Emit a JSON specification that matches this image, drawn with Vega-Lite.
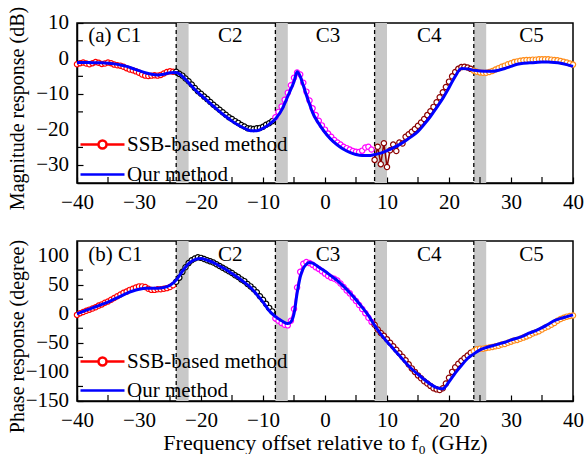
{
  "$schema": "https://vega.github.io/schema/vega-lite/v6.json",
  "padding": {"left": 6, "top": 5, "right": 0, "bottom": 0},
  "bounds": "flush",
  "spacing": 58,
  "config": {
    "font": "Liberation Serif",
    "view": {"stroke": "black", "strokeWidth": 1.5},
    "axis": {"domainColor": "black", "domainWidth": 1.5, "tickColor": "black", "tickSize": -6, "tickWidth": 1.2, "labelFont": "Liberation Serif", "labelFontSize": 21, "labelColor": "black", "labelPadding": 14, "titleFont": "Liberation Serif", "titleFontSize": 20, "titleFontWeight": "normal", "titleColor": "black", "grid": false, "labelFlush": false, "labelOverlap": false},
    "legend": {"padding": 0}
  },
  "resolve": {"scale": {"color": "independent", "stroke": "independent"}, "legend": {"color": "independent"}},
  "datasets": {
    "bands": [{"a": -24, "b": -22}, {"a": -8, "b": -6}, {"a": 8, "b": 10}, {"a": 24, "b": 26}],
    "dash": [{"d": -24}, {"d": -8}, {"d": 8}, {"d": 24}],
    "xminor": [{"v": -35}, {"v": -25}, {"v": -15}, {"v": -5}, {"v": 5}, {"v": 15}, {"v": 25}, {"v": 35}],
    "yminorA": [{"v": -25}, {"v": -15}, {"v": -5}, {"v": 5}],
    "yminorB": [{"v": -125}, {"v": -75}, {"v": -25}, {"v": 25}, {"v": 75}],
    "ylabA": [{"v": -30}, {"v": -20}, {"v": -10}, {"v": 0}, {"v": 10}],
    "ylabB": [{"v": -150}, {"v": -100}, {"v": -50}, {"v": 0}, {"v": 50}, {"v": 100}],
    "labA": [{"f": -38.2, "y": 6.4, "t": "(a) C1"}],
    "labB": [{"f": -38.2, "y": 101, "t": "(b) C1"}],
    "segA": [{"f": -15.3, "y": 6.4, "t": "C2"}, {"f": 0.5, "y": 6.4, "t": "C3"}, {"f": 16.8, "y": 6.4, "t": "C4"}, {"f": 33.3, "y": 6.4, "t": "C5"}],
    "segB": [{"f": -15.3, "y": 101, "t": "C2"}, {"f": 0.5, "y": 101, "t": "C3"}, {"f": 16.8, "y": 101, "t": "C4"}, {"f": 33.3, "y": 101, "t": "C5"}],
    "ours": [
      {"f": -40, "m": -1.1, "p": 0}, {"f": -39, "m": -1.1, "p": 4}, {"f": -38, "m": -1.1, "p": 8}, {"f": -37, "m": -1.2, "p": 12},
      {"f": -36, "m": -1.2, "p": 16}, {"f": -35, "m": -1.3, "p": 20}, {"f": -34, "m": -1.5, "p": 25}, {"f": -33, "m": -1.8, "p": 30},
      {"f": -32, "m": -2.2, "p": 35}, {"f": -31, "m": -2.8, "p": 39}, {"f": -30, "m": -3.4, "p": 42}, {"f": -29, "m": -4.0, "p": 44},
      {"f": -28, "m": -4.4, "p": 44}, {"f": -27, "m": -4.6, "p": 44}, {"f": -26, "m": -4.4, "p": 45}, {"f": -25, "m": -4.0, "p": 49},
      {"f": -24, "m": -3.9, "p": 58}, {"f": -23, "m": -5.0, "p": 73}, {"f": -22, "m": -6.8, "p": 86}, {"f": -21, "m": -8.7, "p": 93},
      {"f": -20, "m": -10.3, "p": 95}, {"f": -19, "m": -11.8, "p": 92}, {"f": -18, "m": -13.4, "p": 88}, {"f": -17, "m": -14.9, "p": 82},
      {"f": -16, "m": -16.3, "p": 76}, {"f": -15, "m": -17.6, "p": 69}, {"f": -14, "m": -18.7, "p": 62}, {"f": -13, "m": -19.6, "p": 54},
      {"f": -12, "m": -20.3, "p": 45}, {"f": -11, "m": -20.3, "p": 33}, {"f": -10, "m": -19.6, "p": 20}, {"f": -9, "m": -18.5, "p": 5},
      {"f": -8, "m": -17.0, "p": -5}, {"f": -7, "m": -14.5, "p": -12}, {"f": -6, "m": -10.6, "p": -17}, {"f": -5.5, "m": -8.6, "p": -14},
      {"f": -5, "m": -6.5, "p": 0}, {"f": -4.5, "m": -3.7, "p": 35}, {"f": -4, "m": -5.0, "p": 63}, {"f": -3.5, "m": -7.6, "p": 78},
      {"f": -3, "m": -10.3, "p": 85}, {"f": -2.5, "m": -12.8, "p": 88}, {"f": -2, "m": -15.2, "p": 87}, {"f": -1, "m": -18.3, "p": 80},
      {"f": 0, "m": -20.8, "p": 73}, {"f": 1, "m": -22.8, "p": 65}, {"f": 2, "m": -24.3, "p": 57}, {"f": 3, "m": -25.5, "p": 47},
      {"f": 4, "m": -26.4, "p": 36}, {"f": 5, "m": -27.0, "p": 24}, {"f": 6, "m": -27.3, "p": 11}, {"f": 7, "m": -27.3, "p": -3},
      {"f": 8, "m": -27.0, "p": -20}, {"f": 9, "m": -26.6, "p": -35}, {"f": 10, "m": -25.9, "p": -48}, {"f": 11, "m": -25.1, "p": -60},
      {"f": 12, "m": -24.2, "p": -72}, {"f": 13, "m": -23.1, "p": -84}, {"f": 14, "m": -21.9, "p": -95}, {"f": 15, "m": -20.5, "p": -104},
      {"f": 16, "m": -18.5, "p": -113}, {"f": 17, "m": -16.3, "p": -121}, {"f": 18, "m": -13.8, "p": -127}, {"f": 19, "m": -11.2, "p": -129},
      {"f": 20, "m": -8.2, "p": -117}, {"f": 21, "m": -5.0, "p": -102}, {"f": 22, "m": -2.8, "p": -89}, {"f": 23, "m": -2.9, "p": -77},
      {"f": 24, "m": -3.3, "p": -69}, {"f": 25, "m": -3.5, "p": -62}, {"f": 26, "m": -3.6, "p": -58}, {"f": 27, "m": -3.6, "p": -55},
      {"f": 28, "m": -3.3, "p": -52}, {"f": 29, "m": -2.8, "p": -49}, {"f": 30, "m": -2.2, "p": -45}, {"f": 31, "m": -1.6, "p": -42},
      {"f": 32, "m": -1.3, "p": -38}, {"f": 33, "m": -1.2, "p": -33}, {"f": 34, "m": -1.1, "p": -29}, {"f": 35, "m": -1.0, "p": -24},
      {"f": 36, "m": -1.0, "p": -18}, {"f": 37, "m": -1.1, "p": -12}, {"f": 38, "m": -1.3, "p": -8}, {"f": 39, "m": -1.7, "p": -5},
      {"f": 40, "m": -2.2, "p": -2}
    ],
    "ssb": [
      {"f": -40, "s": "C1", "m": -1.6, "p": -2}, {"f": -39.5, "s": "C1", "m": -1.3, "p": 1}, {"f": -39, "s": "C1", "m": -1.1, "p": 3}, {"f": -38.5, "s": "C1", "m": -1.4, "p": 5},
      {"f": -38, "s": "C1", "m": -1.6, "p": 7}, {"f": -37.5, "s": "C1", "m": -1.3, "p": 9}, {"f": -37, "s": "C1", "m": -1.0, "p": 11}, {"f": -36.5, "s": "C1", "m": -1.2, "p": 14},
      {"f": -36, "s": "C1", "m": -1.5, "p": 16}, {"f": -35.5, "s": "C1", "m": -1.4, "p": 19}, {"f": -35, "s": "C1", "m": -1.1, "p": 21}, {"f": -34.5, "s": "C1", "m": -1.3, "p": 24},
      {"f": -34, "s": "C1", "m": -1.7, "p": 27}, {"f": -33.5, "s": "C1", "m": -1.9, "p": 30}, {"f": -33, "s": "C1", "m": -2.0, "p": 33}, {"f": -32.5, "s": "C1", "m": -2.3, "p": 36},
      {"f": -32, "s": "C1", "m": -2.7, "p": 38}, {"f": -31.5, "s": "C1", "m": -3.1, "p": 41}, {"f": -31, "s": "C1", "m": -3.3, "p": 43}, {"f": -30.5, "s": "C1", "m": -3.6, "p": 45},
      {"f": -30, "s": "C1", "m": -4.0, "p": 47}, {"f": -29.5, "s": "C1", "m": -4.5, "p": 47}, {"f": -29, "s": "C1", "m": -4.8, "p": 46}, {"f": -28.5, "s": "C1", "m": -4.9, "p": 43},
      {"f": -28, "s": "C1", "m": -4.8, "p": 41}, {"f": -27.5, "s": "C1", "m": -4.7, "p": 41}, {"f": -27, "s": "C1", "m": -4.8, "p": 42}, {"f": -26.5, "s": "C1", "m": -4.6, "p": 42},
      {"f": -26, "s": "C1", "m": -4.2, "p": 43}, {"f": -25.5, "s": "C1", "m": -3.8, "p": 44}, {"f": -25, "s": "C1", "m": -3.6, "p": 46}, {"f": -24.5, "s": "C1", "m": -3.7, "p": 49},
      {"f": -24, "s": "C2", "m": -3.7, "p": 55}, {"f": -23.5, "s": "C2", "m": -4.3, "p": 62}, {"f": -23, "s": "C2", "m": -4.8, "p": 72}, {"f": -22.5, "s": "C2", "m": -5.6, "p": 80},
      {"f": -22, "s": "C2", "m": -6.4, "p": 87}, {"f": -21.5, "s": "C2", "m": -7.3, "p": 92}, {"f": -21, "s": "C2", "m": -8.3, "p": 95}, {"f": -20.5, "s": "C2", "m": -9.2, "p": 97},
      {"f": -20, "s": "C2", "m": -9.9, "p": 96}, {"f": -19.5, "s": "C2", "m": -10.7, "p": 94}, {"f": -19, "s": "C2", "m": -11.4, "p": 92}, {"f": -18.5, "s": "C2", "m": -12.2, "p": 90},
      {"f": -18, "s": "C2", "m": -13.0, "p": 88}, {"f": -17.5, "s": "C2", "m": -13.7, "p": 85}, {"f": -17, "s": "C2", "m": -14.4, "p": 82}, {"f": -16.5, "s": "C2", "m": -15.1, "p": 79},
      {"f": -16, "s": "C2", "m": -15.8, "p": 76}, {"f": -15.5, "s": "C2", "m": -16.5, "p": 73}, {"f": -15, "s": "C2", "m": -17.0, "p": 70}, {"f": -14.5, "s": "C2", "m": -17.6, "p": 66},
      {"f": -14, "s": "C2", "m": -18.1, "p": 63}, {"f": -13.5, "s": "C2", "m": -18.7, "p": 59}, {"f": -13, "s": "C2", "m": -19.1, "p": 56}, {"f": -12.5, "s": "C2", "m": -19.6, "p": 51},
      {"f": -12, "s": "C2", "m": -19.7, "p": 47}, {"f": -11.5, "s": "C2", "m": -19.8, "p": 42}, {"f": -11, "s": "C2", "m": -19.6, "p": 37}, {"f": -10.5, "s": "C2", "m": -19.5, "p": 30},
      {"f": -10, "s": "C2", "m": -19.2, "p": 24}, {"f": -9.5, "s": "C2", "m": -18.6, "p": 17}, {"f": -9, "s": "C2", "m": -18.2, "p": 10}, {"f": -8.5, "s": "C2", "m": -17.6, "p": 4},
      {"f": -8, "s": "C3", "m": -16.5, "p": -8}, {"f": -7.5, "s": "C3", "m": -15.0, "p": -12}, {"f": -7, "s": "C3", "m": -13.5, "p": -16}, {"f": -6.5, "s": "C3", "m": -11.6, "p": -19},
      {"f": -6, "s": "C3", "m": -9.6, "p": -20}, {"f": -5.5, "s": "C3", "m": -7.5, "p": -12}, {"f": -5, "s": "C3", "m": -5.4, "p": 8}, {"f": -4.5, "s": "C3", "m": -3.9, "p": 45},
      {"f": -4, "s": "C3", "m": -4.5, "p": 72}, {"f": -3.5, "s": "C3", "m": -6.8, "p": 86}, {"f": -3, "s": "C3", "m": -9.3, "p": 89}, {"f": -2.5, "s": "C3", "m": -11.8, "p": 87},
      {"f": -2, "s": "C3", "m": -14.0, "p": 84}, {"f": -1.5, "s": "C3", "m": -15.9, "p": 80}, {"f": -1, "s": "C3", "m": -17.5, "p": 77}, {"f": -0.5, "s": "C3", "m": -18.8, "p": 73},
      {"f": 0, "s": "C3", "m": -20.0, "p": 69}, {"f": 0.5, "s": "C3", "m": -21.1, "p": 65}, {"f": 1, "s": "C3", "m": -22.0, "p": 62}, {"f": 1.5, "s": "C3", "m": -22.9, "p": 60},
      {"f": 2, "s": "C3", "m": -23.6, "p": 57}, {"f": 2.5, "s": "C3", "m": -24.2, "p": 52}, {"f": 3, "s": "C3", "m": -24.8, "p": 46}, {"f": 3.5, "s": "C3", "m": -25.2, "p": 40},
      {"f": 4, "s": "C3", "m": -25.6, "p": 35}, {"f": 4.5, "s": "C3", "m": -26.0, "p": 28}, {"f": 5, "s": "C3", "m": -26.2, "p": 22}, {"f": 5.5, "s": "C3", "m": -26.3, "p": 15},
      {"f": 6, "s": "C3", "m": -25.9, "p": 8}, {"f": 6.5, "s": "C3", "m": -25.0, "p": 1}, {"f": 7, "s": "C3", "m": -24.8, "p": -7}, {"f": 7.5, "s": "C3", "m": -25.6, "p": -14},
      {"f": 8, "s": "C4", "m": -28.5, "p": -19}, {"f": 8.5, "s": "C4", "m": -24.8, "p": -27}, {"f": 9, "s": "C4", "m": -29.7, "p": -33}, {"f": 9.5, "s": "C4", "m": -23.8, "p": -38},
      {"f": 10, "s": "C4", "m": -30.5, "p": -44}, {"f": 10.5, "s": "C4", "m": -25.8, "p": -50}, {"f": 11, "s": "C4", "m": -24.2, "p": -56}, {"f": 11.5, "s": "C4", "m": -26.0, "p": -62},
      {"f": 12, "s": "C4", "m": -23.6, "p": -68}, {"f": 12.5, "s": "C4", "m": -23.9, "p": -74}, {"f": 13, "s": "C4", "m": -22.0, "p": -80}, {"f": 13.5, "s": "C4", "m": -21.3, "p": -87},
      {"f": 14, "s": "C4", "m": -20.6, "p": -94}, {"f": 14.5, "s": "C4", "m": -19.8, "p": -100}, {"f": 15, "s": "C4", "m": -18.9, "p": -106}, {"f": 15.5, "s": "C4", "m": -18.0, "p": -111},
      {"f": 16, "s": "C4", "m": -17.0, "p": -116}, {"f": 16.5, "s": "C4", "m": -15.9, "p": -120}, {"f": 17, "s": "C4", "m": -14.8, "p": -124}, {"f": 17.5, "s": "C4", "m": -13.6, "p": -128},
      {"f": 18, "s": "C4", "m": -12.3, "p": -130}, {"f": 18.5, "s": "C4", "m": -10.9, "p": -131}, {"f": 19, "s": "C4", "m": -9.5, "p": -128}, {"f": 19.5, "s": "C4", "m": -8.0, "p": -120},
      {"f": 20, "s": "C4", "m": -6.5, "p": -110}, {"f": 20.5, "s": "C4", "m": -5.0, "p": -100}, {"f": 21, "s": "C4", "m": -3.8, "p": -92}, {"f": 21.5, "s": "C4", "m": -2.9, "p": -86},
      {"f": 22, "s": "C4", "m": -2.4, "p": -81}, {"f": 22.5, "s": "C4", "m": -2.3, "p": -76}, {"f": 23, "s": "C4", "m": -2.5, "p": -72}, {"f": 23.5, "s": "C4", "m": -2.9, "p": -67},
      {"f": 24, "s": "C5", "m": -3.4, "p": -64}, {"f": 24.5, "s": "C5", "m": -3.7, "p": -61}, {"f": 25, "s": "C5", "m": -3.9, "p": -60}, {"f": 25.5, "s": "C5", "m": -4.0, "p": -60},
      {"f": 26, "s": "C5", "m": -4.0, "p": -59}, {"f": 26.5, "s": "C5", "m": -3.8, "p": -58}, {"f": 27, "s": "C5", "m": -3.5, "p": -57}, {"f": 27.5, "s": "C5", "m": -3.1, "p": -56},
      {"f": 28, "s": "C5", "m": -2.7, "p": -55}, {"f": 28.5, "s": "C5", "m": -2.3, "p": -53}, {"f": 29, "s": "C5", "m": -2.0, "p": -52}, {"f": 29.5, "s": "C5", "m": -1.6, "p": -50},
      {"f": 30, "s": "C5", "m": -1.3, "p": -48}, {"f": 30.5, "s": "C5", "m": -1.0, "p": -46}, {"f": 31, "s": "C5", "m": -0.8, "p": -45}, {"f": 31.5, "s": "C5", "m": -0.6, "p": -43},
      {"f": 32, "s": "C5", "m": -0.5, "p": -41}, {"f": 32.5, "s": "C5", "m": -0.4, "p": -39}, {"f": 33, "s": "C5", "m": -0.4, "p": -37}, {"f": 33.5, "s": "C5", "m": -0.3, "p": -34},
      {"f": 34, "s": "C5", "m": -0.3, "p": -32}, {"f": 34.5, "s": "C5", "m": -0.2, "p": -30}, {"f": 35, "s": "C5", "m": -0.2, "p": -27}, {"f": 35.5, "s": "C5", "m": -0.2, "p": -24},
      {"f": 36, "s": "C5", "m": -0.2, "p": -22}, {"f": 36.5, "s": "C5", "m": -0.3, "p": -19}, {"f": 37, "s": "C5", "m": -0.4, "p": -16}, {"f": 37.5, "s": "C5", "m": -0.5, "p": -12},
      {"f": 38, "s": "C5", "m": -0.7, "p": -9}, {"f": 38.5, "s": "C5", "m": -0.9, "p": -7}, {"f": 39, "s": "C5", "m": -1.1, "p": -5}, {"f": 39.5, "s": "C5", "m": -1.4, "p": -4},
      {"f": 40, "s": "C5", "m": -1.7, "p": -3}
    ]
  },
  "vconcat": [
    {
      "width": 496,
      "height": 160,
      "layer": [
        {
          "data": {"name": "bands"},
          "mark": {"type": "rect", "color": "#c8c8c8"},
          "encoding": {
            "x": {"field": "a", "type": "quantitative", "title": null, "scale": {"domain": [-40, 40], "nice": false},
              "axis": {"values": [-40, -30, -20, -10, 0, 10, 20, 30, 40], "labelFont": "Liberation Serif"}},
            "x2": {"field": "b"}
          }
        },
        {
          "data": {"name": "dash"},
          "mark": {"type": "rule", "color": "black", "strokeDash": [4, 3], "strokeWidth": 1.3},
          "encoding": {"x": {"field": "d", "type": "quantitative", "title": null}}
        },
        {
          "data": {"name": "xminor"},
          "mark": {"type": "rule", "color": "black", "strokeWidth": 1.2},
          "encoding": {"x": {"field": "v", "type": "quantitative", "title": null}, "y": {"datum": -35, "type": "quantitative", "title": "Magnitude response (dB)"}, "y2": {"datum": -33.3}}
        },
        {
          "data": {"name": "yminorA"},
          "mark": {"type": "rule", "color": "black", "strokeWidth": 1.2},
          "encoding": {"y": {"field": "v", "type": "quantitative", "title": "Magnitude response (dB)"}, "x": {"datum": -40, "type": "quantitative", "title": null}, "x2": {"datum": -39.03}}
        },
        {
          "data": {"name": "ylabA"},
          "mark": {"type": "text", "align": "right", "baseline": "middle", "dx": -8, "fontSize": 21, "font": "Liberation Serif", "color": "black"},
          "encoding": {"y": {"field": "v", "type": "quantitative", "title": "Magnitude response (dB)"}, "x": {"datum": -40, "type": "quantitative", "title": null}, "text": {"field": "v", "type": "quantitative"}}
        },
        {
          "data": {"name": "ssb"},
          "mark": {"type": "line", "strokeWidth": 1.5, "point": {"filled": false, "fill": "white", "size": 28, "strokeWidth": 1.2}},
          "encoding": {
            "x": {"field": "f", "type": "quantitative", "title": null},
            "y": {"field": "m", "type": "quantitative", "title": "Magnitude response (dB)", "scale": {"domain": [-35, 10], "nice": false},
              "axis": {"values": [-30, -20, -10, 0, 10], "labels": false, "titleX": -50, "titleY": 85}},
            "stroke": {"field": "s", "type": "nominal", "scale": {"domain": ["C1", "C2", "C3", "C4", "C5"], "range": ["#ff0000", "#000000", "#ff00ff", "#8b0000", "#ff8c1a"]}, "legend": null}
          }
        },
        {
          "data": {"name": "ours"},
          "mark": {"type": "line", "strokeWidth": 3, "interpolate": "monotone"},
          "encoding": {
            "x": {"field": "f", "type": "quantitative", "title": null},
            "y": {"field": "m", "type": "quantitative", "title": "Magnitude response (dB)"},
            "color": {"datum": "Our method", "scale": {"domain": ["SSB-based method", "Our method"], "range": ["#ff0000", "#0000ff"]},
              "legend": {"orient": "none", "legendX": 15, "legendY": 111, "title": null, "labelFont": "Liberation Serif", "labelFontSize": 21, "labelColor": "black", "labelLimit": 0, "symbolSize": 100, "symbolStrokeWidth": 2.5, "labelOffset": 14, "rowPadding": 8,
                "encode": {"symbols": {"update": {"shape": {"signal": "datum.value === 'Our method' ? 'M-4.4,0H4.4' : 'M-4.4,0H-0.8M0.8,0H4.4M0.8,0A0.8,0.8,0,1,1,-0.8,0A0.8,0.8,0,1,1,0.8,0'"}, "fill": {"value": "white"}, "strokeWidth": {"value": 2.5}}}}}}
          }
        },
        {
          "data": {"name": "labA"},
          "mark": {"type": "text", "align": "left", "baseline": "middle", "fontSize": 21, "font": "Liberation Serif", "color": "black"},
          "encoding": {
            "x": {"field": "f", "type": "quantitative", "title": null},
            "y": {"field": "y", "type": "quantitative", "title": "Magnitude response (dB)"},
            "text": {"field": "t"}
          }
        },
        {
          "data": {"name": "segA"},
          "mark": {"type": "text", "align": "center", "baseline": "middle", "fontSize": 21, "font": "Liberation Serif", "color": "black"},
          "encoding": {
            "x": {"field": "f", "type": "quantitative", "title": null},
            "y": {"field": "y", "type": "quantitative", "title": "Magnitude response (dB)"},
            "text": {"field": "t"}
          }
        }
      ]
    },
    {
      "width": 496,
      "height": 160,
      "layer": [
        {
          "data": {"name": "bands"},
          "mark": {"type": "rect", "color": "#c8c8c8"},
          "encoding": {
            "x": {"field": "a", "type": "quantitative", "title": "Frequency offset relative to f₀ (GHz)", "scale": {"domain": [-40, 40], "nice": false},
              "axis": {"values": [-40, -30, -20, -10, 0, 10, 20, 30, 40], "labelFont": "Liberation Serif", "titlePadding": 2, "titleFontSize": 22}},
            "x2": {"field": "b"}
          }
        },
        {
          "data": {"name": "dash"},
          "mark": {"type": "rule", "color": "black", "strokeDash": [4, 3], "strokeWidth": 1.3},
          "encoding": {"x": {"field": "d", "type": "quantitative", "title": "Frequency offset relative to f₀ (GHz)"}}
        },
        {
          "data": {"name": "xminor"},
          "mark": {"type": "rule", "color": "black", "strokeWidth": 1.2},
          "encoding": {"x": {"field": "v", "type": "quantitative", "title": "Frequency offset relative to f₀ (GHz)"}, "y": {"datum": -150, "type": "quantitative", "title": "Phase response (degree)"}, "y2": {"datum": -139.7}}
        },
        {
          "data": {"name": "yminorB"},
          "mark": {"type": "rule", "color": "black", "strokeWidth": 1.2},
          "encoding": {"y": {"field": "v", "type": "quantitative", "title": "Phase response (degree)"}, "x": {"datum": -40, "type": "quantitative", "title": "Frequency offset relative to f₀ (GHz)"}, "x2": {"datum": -39.03}}
        },
        {
          "data": {"name": "ylabB"},
          "mark": {"type": "text", "align": "right", "baseline": "middle", "dx": -8, "fontSize": 21, "font": "Liberation Serif", "color": "black"},
          "encoding": {"y": {"field": "v", "type": "quantitative", "title": "Phase response (degree)"}, "x": {"datum": -40, "type": "quantitative", "title": "Frequency offset relative to f₀ (GHz)"}, "text": {"field": "v", "type": "quantitative"}}
        },
        {
          "data": {"name": "ssb"},
          "mark": {"type": "line", "strokeWidth": 1.5, "point": {"filled": false, "fill": "white", "size": 28, "strokeWidth": 1.2}},
          "encoding": {
            "x": {"field": "f", "type": "quantitative", "title": "Frequency offset relative to f₀ (GHz)"},
            "y": {"field": "p", "type": "quantitative", "title": "Phase response (degree)", "scale": {"domain": [-150, 125], "nice": false},
              "axis": {"values": [-150, -100, -50, 0, 50, 100], "labels": false, "titleX": -50, "titleY": 95}},
            "stroke": {"field": "s", "type": "nominal", "scale": {"domain": ["C1", "C2", "C3", "C4", "C5"], "range": ["#ff0000", "#000000", "#ff00ff", "#8b0000", "#ff8c1a"]}, "legend": null}
          }
        },
        {
          "data": {"name": "ours"},
          "mark": {"type": "line", "strokeWidth": 3, "interpolate": "monotone"},
          "encoding": {
            "x": {"field": "f", "type": "quantitative", "title": "Frequency offset relative to f₀ (GHz)"},
            "y": {"field": "p", "type": "quantitative", "title": "Phase response (degree)"},
            "color": {"datum": "Our method", "scale": {"domain": ["SSB-based method", "Our method"], "range": ["#ff0000", "#0000ff"]},
              "legend": {"orient": "none", "legendX": 15, "legendY": 110, "title": null, "labelFont": "Liberation Serif", "labelFontSize": 21, "labelColor": "black", "labelLimit": 0, "symbolSize": 100, "symbolStrokeWidth": 2.5, "labelOffset": 14, "rowPadding": 7,
                "encode": {"symbols": {"update": {"shape": {"signal": "datum.value === 'Our method' ? 'M-4.4,0H4.4' : 'M-4.4,0H-0.8M0.8,0H4.4M0.8,0A0.8,0.8,0,1,1,-0.8,0A0.8,0.8,0,1,1,0.8,0'"}, "fill": {"value": "white"}, "strokeWidth": {"value": 2.5}}}}}}
          }
        },
        {
          "data": {"name": "labB"},
          "mark": {"type": "text", "align": "left", "baseline": "middle", "fontSize": 21, "font": "Liberation Serif", "color": "black"},
          "encoding": {
            "x": {"field": "f", "type": "quantitative", "title": "Frequency offset relative to f₀ (GHz)"},
            "y": {"field": "y", "type": "quantitative", "title": "Phase response (degree)"},
            "text": {"field": "t"}
          }
        },
        {
          "data": {"name": "segB"},
          "mark": {"type": "text", "align": "center", "baseline": "middle", "fontSize": 21, "font": "Liberation Serif", "color": "black"},
          "encoding": {
            "x": {"field": "f", "type": "quantitative", "title": "Frequency offset relative to f₀ (GHz)"},
            "y": {"field": "y", "type": "quantitative", "title": "Phase response (degree)"},
            "text": {"field": "t"}
          }
        }
      ]
    }
  ]
}
